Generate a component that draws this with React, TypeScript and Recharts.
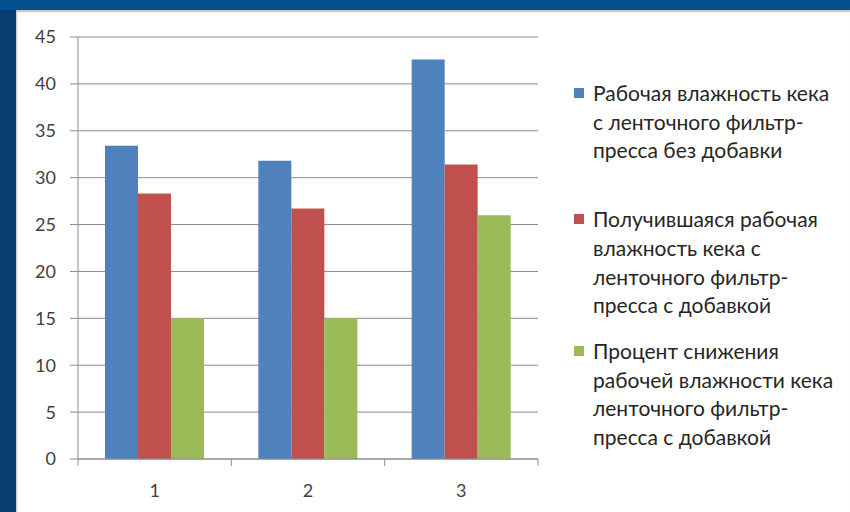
import { BarChart, Bar, XAxis, YAxis, CartesianGrid, Legend } from "recharts";

const categories = ["1", "2", "3"];
const withoutAdditive = [33.4, 31.8, 42.6];
const withAdditive = [28.3, 26.7, 31.4];
const reductionPercent = [15.0, 15.0, 26.0];
const yTicks = [0, 5, 10, 15, 20, 25, 30, 35, 40, 45];

const seriesNames = [
  "Рабочая влажность кека\nс ленточного фильтр-\nпресса без добавки",
  "Получившаяся рабочая\nвлажность кека с\nленточного фильтр-\nпресса с добавкой",
  "Процент снижения\nрабочей влажности кека\nленточного фильтр-\nпресса с добавкой",
];

const colors = ["#4F81BD", "#C0504D", "#9BBB59"];
const itemGaps = [40, 17, 0];

const chartData = categories.map((c, i) => ({
  name: c,
  s1: withoutAdditive[i],
  s2: withAdditive[i],
  s3: reductionPercent[i],
}));

const FONT = "Lato, 'Open Sans', sans-serif";

const renderLegend = (props: any) => {
  // keep the series order, not the alphabetical one
  const items = [...(props.payload || [])].sort(
    (a: any, b: any) => seriesNames.indexOf(a.value) - seriesNames.indexOf(b.value)
  );
  return (
    <div style={{ fontFamily: FONT, fontSize: 21, lineHeight: "28.7px", color: "#262626" }}>
      {items.map((entry: any, i: number) => (
        <div key={i} style={{ position: "relative", paddingLeft: 19, marginBottom: itemGaps[i], whiteSpace: "pre-line" }}>
          <span
            style={{
              position: "absolute",
              left: 0,
              top: 9,
              width: 10,
              height: 10,
              background: entry.color,
            }}
          />
          {entry.value}
        </div>
      ))}
    </div>
  );
};

const XTick = (props: any) => {
  const { x, y, payload, index, width, visibleTicksCount } = props;
  const half = width / visibleTicksCount / 2;
  return (
    <g>
      <line x1={x - half} x2={x - half} y1={y - 8} y2={y - 1} stroke="#8C8C8C" />
      {index === visibleTicksCount - 1 && (
        <line x1={x + half} x2={x + half} y1={y - 8} y2={y - 1} stroke="#8C8C8C" />
      )}
      <text x={x} y={y + 30} textAnchor="middle" fontFamily={FONT} fontSize={18} fill="#404040">
        {payload.value}
      </text>
    </g>
  );
};

const App = () => {
  return (
    <div style={{ position: "fixed", left: 0, top: 0, width: 850, height: 512, background: "#063E72" }}>
      <div style={{ position: "absolute", left: 0, top: 0, width: 850, height: 10, background: "#02528F" }} />
      <div
        style={{
          position: "absolute",
          left: 16,
          top: 10,
          width: 834,
          height: 502,
          background: "#FFFFFF",
          boxShadow: "inset 1px 2px 2px rgba(0,0,0,0.25)",
        }}
      >
        <BarChart
          width={834}
          height={502}
          data={chartData}
          margin={{ top: 27, right: 312, bottom: 10, left: 0 }}
          barGap={0}
          barSize={33}
        >
          <CartesianGrid vertical={false} stroke="#8C8C8C" strokeWidth={1} />
          <XAxis
            dataKey="name"
            axisLine={{ stroke: "#8C8C8C" }}
            tickLine={false}
            tick={<XTick />}
            height={43}
            interval={0}
          />
          <YAxis
            domain={[0, 45]}
            ticks={yTicks}
            width={62}
            interval={0}
            axisLine={{ stroke: "#8C8C8C" }}
            tickLine={{ stroke: "#8C8C8C" }}
            tickSize={8}
            tickMargin={14}
            tick={{ fontFamily: FONT, fontSize: 18, fill: "#404040" }}
          />
          <Legend
            layout="horizontal"
            align="center"
            verticalAlign="middle"
            content={renderLegend}
            wrapperStyle={{ position: "absolute", left: 558, top: 69, width: 276 }}
          />
          <Bar dataKey="s1" name={seriesNames[0]} fill={colors[0]} isAnimationActive={false} />
          <Bar dataKey="s2" name={seriesNames[1]} fill={colors[1]} isAnimationActive={false} />
          <Bar dataKey="s3" name={seriesNames[2]} fill={colors[2]} isAnimationActive={false} />
        </BarChart>
      </div>
    </div>
  );
};

export default App;
